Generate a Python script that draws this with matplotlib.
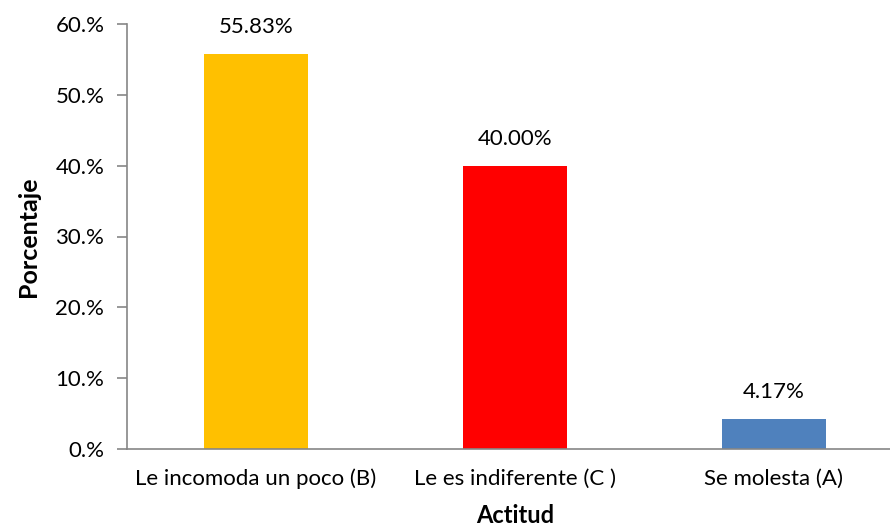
import matplotlib

matplotlib.use("Agg")
import matplotlib.pyplot as plt
from matplotlib.ticker import FuncFormatter

categories = ["Le incomoda un poco (B)", "Le es indiferente (C )", "Se molesta (A)"]
values = [55.83, 40.00, 4.17]
colors = ["#FFC000", "#FF0000", "#4F81BD"]
yticks = [0, 10, 20, 30, 40, 50, 60]

plt.rcParams["font.family"] = ["Lato", "DejaVu Sans"]

fig = plt.figure(figsize=(8.9, 5.31), dpi=100)
ax = fig.add_axes([126.5 / 890, 1 - 449 / 531, 777 / 890, 425 / 531])

x = range(len(categories))
ax.bar(x, values, width=0.40, color=colors, zorder=2)
for xi, v in zip(x, values):
    ax.text(xi, v + 2.4, f"{v:.2f}%", ha="center", va="bottom", fontsize=16)

ax.set_xlim(-0.5, len(categories) - 0.5)
ax.set_ylim(0, 60)
ax.set_yticks(yticks)
ax.yaxis.set_major_formatter(FuncFormatter(lambda v, _: f"{v:.0f}.%"))
ax.set_xticks(list(x))
ax.set_xticklabels(categories)
ax.tick_params(axis="y", length=7, width=1.2, color="#868686", labelsize=16, pad=9)
ax.tick_params(axis="x", length=0, labelsize=16, pad=14)

for side in ("top", "right"):
    ax.spines[side].set_visible(False)
for side in ("left", "bottom"):
    ax.spines[side].set_color("#868686")
    ax.spines[side].set_linewidth(1.2)

ax.set_xlabel("Actitud", fontsize=17, fontweight="bold", labelpad=11)
ax.set_ylabel("Porcentaje", fontsize=18, fontweight="bold", labelpad=11)

fig.savefig("out.png", dpi=100)
